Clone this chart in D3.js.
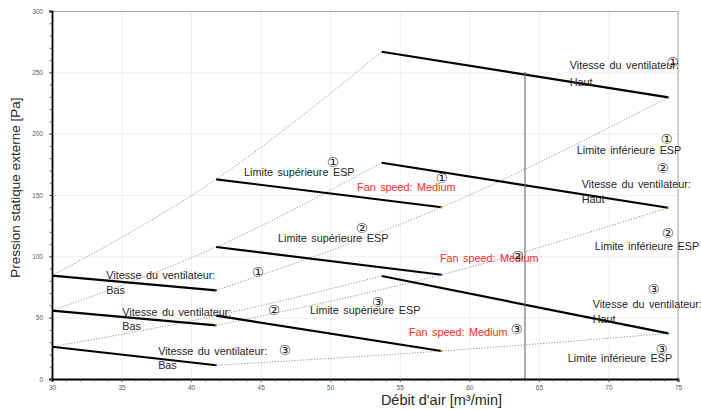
<!DOCTYPE html>
<html>
<head>
<meta charset="utf-8">
<script src="https://cdn.jsdelivr.net/npm/d3@7"></script>
<style>
body { margin: 0; background: #fff; }
svg { font-family: "Liberation Sans", Arial, sans-serif; }
</style>
</head>
<body>
<svg id="chart" width="701" height="410"></svg>
<script>
// AIR FLOW [m3/min] AT EACH FAN SPEED
var basFlow = [30, 41.8];
var mediumFlow = [41.8, 58];
var hautFlow = [53.7, 74.3];

// ESP [Pa] FOR EACH SPEED, SETTINGS 1 2 3
var bas1 = [84.2, 72.3];
var medium1 = [162.8, 140.0];
var haut1 = [266.8, 229.6];
var bas2 = [55.7, 43.7];
var medium2 = [107.6, 85.0];
var haut2 = [176.3, 139.6];
var bas3 = [26.3, 11.2];
var medium3 = [51.6, 22.8];
var haut3 = [84.0, 37.2];

// OPERATING POINT LINE
var checkFlow = 64;
var checkTop = 249;

var xTicks = [30, 35, 40, 45, 50, 55, 60, 65, 70, 75];
var yTicks = [0, 50, 100, 150, 200, 250, 300];

// TEXT ON THE CHART (x, y in data units)
var circled = [
    ["\u2460", 74.62, 258.4], ["\u2460", 74.19, 195.7], ["\u2461", 73.90, 172.0],
    ["\u2461", 74.26, 119.0], ["\u2460", 58.03, 163.9], ["\u2461", 63.49, 100.3],
    ["\u2462", 63.42, 40.8], ["\u2462", 73.26, 73.4], ["\u2462", 73.83, 24.5],
    ["\u2460", 50.20, 176.9], ["\u2461", 52.28, 123.1], ["\u2462", 53.43, 62.8],
    ["\u2460", 44.82, 87.2], ["\u2461", 45.97, 56.2], ["\u2462", 46.76, 23.6]
];
var blackLabels = [
    ["Vitesse du ventilateur:", 67.22, 252.7], ["Haut", 67.22, 238.9],
    ["Limite inférieure ESP", 67.73, 183.4],
    ["Vitesse du ventilateur:", 68.08, 155.7], ["Haut", 68.08, 143.5],
    ["Limite inférieure ESP", 69.02, 105.2],
    ["Vitesse du ventilateur:", 68.87, 57.9], ["Haut", 68.87, 45.7],
    ["Limite inférieure ESP", 67.08, 13.9],
    ["Limite supérieure ESP", 43.81, 165.5],
    ["Limite supérieure ESP", 46.25, 111.7],
    ["Limite supérieure ESP", 48.55, 53.0],
    ["Vitesse du ventilateur:", 33.90, 81.5], ["Bas", 33.90, 69.3],
    ["Vitesse du ventilateur:", 35.05, 51.4], ["Bas", 35.05, 39.9],
    ["Vitesse du ventilateur:", 37.63, 19.6], ["Bas", 37.63, 8.2]
];
var redLabels = [
    ["Fan speed: Medium", 51.93, 153.3],
    ["Fan speed: Medium", 57.89, 95.4],
    ["Fan speed: Medium", 55.66, 35.1]
];

var marginLeft = 52, marginTop = 11, width = 626, height = 368;
var svg = d3.select("#chart");
var g = svg.append("g").attr("transform", `translate(${marginLeft}, ${marginTop})`);

var x = d3.scaleLinear().domain([30, 75]).range([0, width]);
var y = d3.scaleLinear().domain([0, 300]).range([height, 0]);

// GRID
g.append("g")
    .attr("class", "grid")
    .attr("transform", `translate(0, ${height})`)
    .call(d3.axisBottom(x).tickValues(xTicks).tickSize(-height).tickFormat(""))
    .call(s => s.select(".domain").remove());
g.append("g")
    .attr("class", "grid")
    .call(d3.axisLeft(y).tickValues(yTicks).tickSize(-width).tickFormat(""))
    .call(s => s.select(".domain").remove());
g.selectAll(".grid line").attr("stroke", "#efefef");

// TOP AND RIGHT BORDER
g.append("path")
    .attr("d", `M0,0.5H${width}V${height}`)
    .attr("fill", "none")
    .attr("stroke", "#a6a6a6")
    .attr("stroke-width", 1);

// SYSTEM CURVES (DOTTED)
var dotted = d3.line()
    .x(d => x(d[0]))
    .y(d => y(d[1]))
    .curve(d3.curveNatural);

var sets = [[bas1, medium1, haut1], [bas2, medium2, haut2], [bas3, medium3, haut3]];
let sysCurves = [];
sets.forEach(function (s) {
    sysCurves.push([[basFlow[0], s[0][0]], [mediumFlow[0], s[1][0]], [hautFlow[0], s[2][0]]]);
    sysCurves.push([[basFlow[1], s[0][1]], [mediumFlow[1], s[1][1]], [hautFlow[1], s[2][1]]]);
});
g.selectAll(".sys")
    .data(sysCurves)
    .enter()
    .append("path")
    .attr("class", "sys")
    .attr("d", d => dotted(d))
    .attr("fill", "none")
    .attr("stroke", "#8c8c8c")
    .attr("stroke-width", 0.9)
    .attr("stroke-dasharray", "1.2,1.6");

// FAN SPEED LINES
let speedLines = [];
sets.forEach(function (s) {
    speedLines.push(basFlow.map((f, i) => [f, s[0][i]]));
    speedLines.push(mediumFlow.map((f, i) => [f, s[1][i]]));
    speedLines.push(hautFlow.map((f, i) => [f, s[2][i]]));
});
var straight = d3.line().x(d => x(d[0])).y(d => y(d[1]));
g.selectAll(".speed")
    .data(speedLines)
    .enter()
    .append("path")
    .attr("class", "speed")
    .attr("d", d => straight(d))
    .attr("fill", "none")
    .attr("stroke", "#000")
    .attr("stroke-width", 2.2);

// small end markers
g.selectAll(".endmark")
    .data(speedLines)
    .enter()
    .append("circle")
    .attr("cx", d => x(d[1][0]))
    .attr("cy", d => y(d[1][1]))
    .attr("r", 1.1)
    .attr("fill", (d, i) => i % 2 ? "#e6a020" : "#2f6fb5");

// OPERATING POINT
g.append("line")
    .attr("x1", x(checkFlow)).attr("x2", x(checkFlow))
    .attr("y1", y(0)).attr("y2", y(checkTop))
    .attr("stroke", "#6b6b6b")
    .attr("stroke-width", 1.1);
g.append("circle").attr("cx", x(checkFlow)).attr("cy", y(0)).attr("r", 1.5).attr("fill", "#ed7d31");
g.append("circle").attr("cx", x(checkFlow)).attr("cy", y(checkTop)).attr("r", 1.2).attr("fill", "#8a4b1f");

// AXES
var xAxis = g.append("g")
    .attr("class", "axis")
    .attr("transform", `translate(0, ${height})`)
    .call(d3.axisBottom(x).tickValues(xTicks).tickSize(3).tickPadding(3));
g.append("g")
    .attr("class", "axis")
    .attr("transform", `translate(0, ${height})`)
    .call(d3.axisBottom(x).tickValues(d3.range(30, 76, 1)).tickSize(2.5).tickFormat(""))
    .call(s => s.select(".domain").remove());
var yAxis = g.append("g")
    .attr("class", "axis")
    .call(d3.axisLeft(y).tickValues(yTicks).tickSize(3).tickPadding(6));
g.append("g")
    .attr("class", "axis")
    .call(d3.axisLeft(y).tickValues(d3.range(0, 301, 10)).tickSize(2.5).tickFormat(""))
    .call(s => s.select(".domain").remove());

g.selectAll(".axis .tick line").attr("stroke", "#404040").attr("stroke-width", 0.7);
[xAxis, yAxis].forEach(function (a) {
    a.select(".domain").attr("stroke", "#000").attr("stroke-width", 1.8);
    a.selectAll(".tick text")
        .attr("font-family", "Liberation Sans, Arial, sans-serif")
        .attr("font-size", "6.5px")
        .attr("fill", "#595959");
});

// ANNOTATIONS
g.selectAll(".lbl")
    .data(blackLabels)
    .enter()
    .append("text")
    .attr("x", d => x(d[1]))
    .attr("y", d => y(d[2]))
    .attr("font-size", "10.8px")
    .attr("word-spacing", "1.5px")
    .attr("fill", "#262626")
    .text(d => d[0]);

g.selectAll(".red")
    .data(redLabels)
    .enter()
    .append("text")
    .attr("x", d => x(d[1]))
    .attr("y", d => y(d[2]))
    .attr("font-size", "10.8px")
    .attr("word-spacing", "1.5px")
    .attr("fill", "#ff2a2a")
    .text(d => d[0]);

g.selectAll(".num")
    .data(circled)
    .enter()
    .append("text")
    .attr("x", d => x(d[1]))
    .attr("y", d => y(d[2]))
    .attr("text-anchor", "middle")
    .attr("dominant-baseline", "central")
    .attr("font-family", "DejaVu Sans, sans-serif")
    .attr("font-size", "13.5px")
    .attr("fill", "#1a1a1a")
    .text(d => d[0]);

// AXIS TITLES
svg.append("text")
    .attr("x", marginLeft + x(58))
    .attr("y", 405)
    .attr("text-anchor", "middle")
    .attr("font-size", "14.5px")
    .attr("fill", "#262626")
    .text("Débit d'air [m³/min]");
svg.append("text")
    .attr("transform", `translate(20, ${marginTop + y(156)}) rotate(-90)`)
    .attr("text-anchor", "middle")
    .attr("font-size", "13.5px")
    .attr("fill", "#262626")
    .text("Pression statique externe [Pa]");
</script>
</body>
</html>
